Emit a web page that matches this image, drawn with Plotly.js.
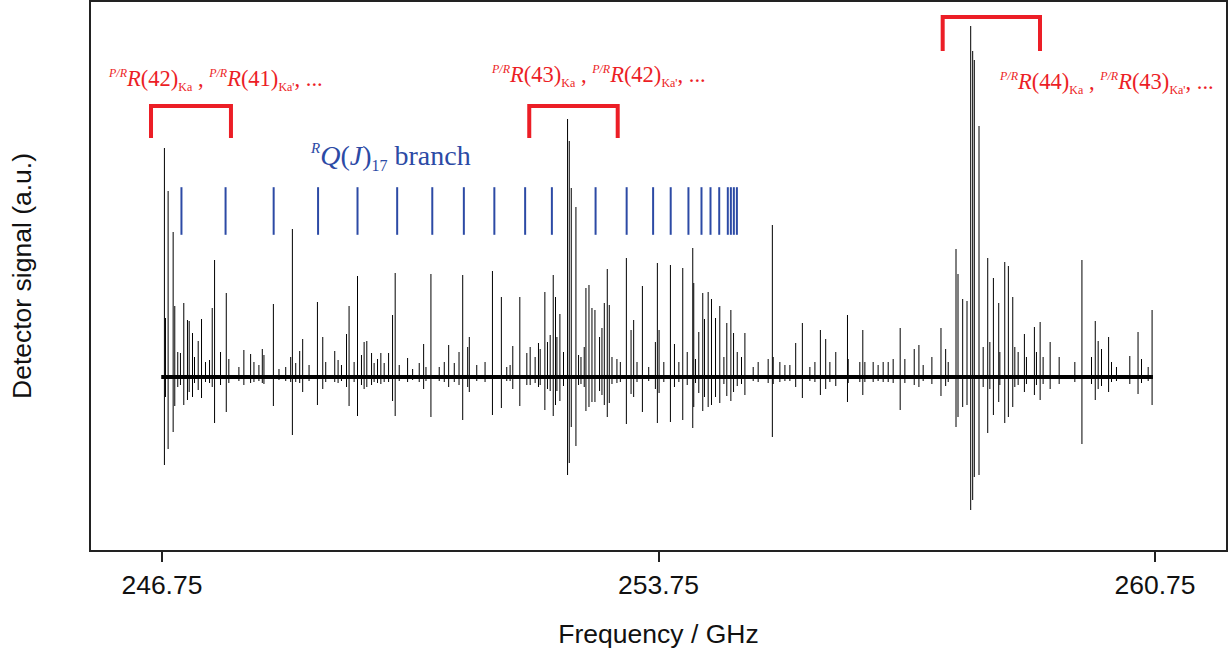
<!DOCTYPE html>
<html>
<head>
<meta charset="utf-8">
<script src="https://cdn.plot.ly/plotly-3.0.1.min.js"></script>
<style>html,body{margin:0;padding:0;background:#fff;}#chart{width:1231px;height:654px;}</style>
</head>
<body>
<div id="chart"></div>
<script>
// Spectral lines: frequency (GHz), upward lobe, downward lobe (detector signal, a.u.)
const lineFreq = [
246.785,246.800,246.837,246.908,246.931,246.973,247.011,247.058,247.110,247.134,
247.181,247.209,247.261,247.308,247.364,247.421,247.459,247.492,247.576,247.657,
247.693,247.835,247.905,248.000,248.047,248.117,248.165,248.188,248.321,248.400,
248.495,248.565,248.589,248.636,248.692,248.734,248.824,248.942,249.017,249.059,
249.186,249.233,249.281,249.352,249.388,249.459,249.507,249.563,249.600,249.638,
249.705,249.741,249.789,249.836,249.883,249.945,250.001,250.038,250.095,250.213,
250.284,250.377,250.439,250.472,250.542,250.659,250.730,250.792,250.871,250.938,
250.990,251.060,251.083,251.188,251.305,251.409,251.535,251.611,251.658,251.696,
251.795,251.894,251.941,252.011,252.058,252.082,252.148,252.185,252.223,252.266,
252.298,252.318,252.360,252.411,252.468,252.492,252.520,252.586,252.623,252.657,
252.703,252.727,252.770,252.812,252.854,252.919,252.953,252.986,253.028,253.056,
253.094,253.164,253.212,253.297,253.363,253.400,253.447,253.523,253.612,253.706,
253.734,253.758,253.825,253.918,253.975,254.037,254.092,254.155,254.233,254.247,
254.272,254.318,254.374,254.398,254.450,254.497,254.554,254.614,254.672,254.713,
254.770,254.808,254.860,254.920,254.968,255.085,255.155,255.296,255.355,255.367,
255.461,255.532,255.602,255.684,255.778,255.884,255.955,256.032,256.107,256.166,
256.249,256.414,256.424,256.588,256.630,256.659,256.776,256.846,256.917,256.988,
257.058,257.157,257.223,257.355,257.421,257.481,257.604,257.732,257.798,257.834,
257.944,257.972,258.038,258.099,258.151,258.179,258.202,258.268,258.327,258.391,
258.421,258.471,258.546,258.562,258.631,258.682,258.744,258.773,258.820,258.908,
258.937,259.049,259.078,259.130,259.172,259.271,259.398,259.619,259.719,259.854,
259.907,259.948,259.995,260.095,260.136,260.206,260.394,260.510,260.559,260.653,
260.708
];
const lineUp = [
229,59,186,145,71,25,24,74,57,56,
44,20,36,58,15,17,69,117,25,84,
18,10,27,23,15,12,28,22,73,8,
10,20,148,14,26,38,12,75,40,15,
26,17,12,43,71,15,101,22,35,36,
24,14,18,24,14,24,62,104,12,19,
8,14,33,10,103,10,15,32,14,25,
102,30,40,12,15,106,80,10,12,31,
80,24,30,20,34,28,85,35,42,102,
80,40,63,25,258,236,189,170,22,20,
30,89,92,69,67,40,49,74,108,72,
20,18,15,119,47,57,15,91,10,35,
114,47,15,112,33,15,109,25,129,94,
18,45,84,58,85,78,59,71,20,54,
67,44,25,20,44,10,15,18,152,20,
15,12,12,34,54,10,15,47,38,15,
25,62,18,15,47,15,15,12,15,15,
18,49,18,28,32,12,20,49,28,15,
128,103,78,76,351,326,317,251,30,119,
35,99,74,25,115,111,80,30,25,43,
20,50,25,55,20,35,20,15,117,20,
56,36,28,40,15,10,21,45,18,10,
67
];
const lineDown = [
88,20,72,55,29,10,8,28,23,15,
20,6,13,21,5,6,10,46,8,35,
6,4,8,6,5,4,6,7,29,3,
4,5,58,5,6,15,4,28,12,5,
5,6,4,10,29,5,39,8,12,10,
8,5,6,7,5,5,24,39,4,5,
3,5,12,4,40,4,5,10,5,8,
43,10,15,4,5,38,31,4,4,12,
29,8,8,6,10,8,33,12,14,39,
28,14,24,9,98,86,50,69,8,7,
10,34,30,25,25,14,18,28,40,26,
7,6,5,47,17,20,5,35,4,12,
46,16,5,45,10,5,43,8,51,30,
6,16,34,20,30,28,20,26,7,19,
24,15,9,7,18,4,5,6,60,7,
5,4,4,10,21,4,5,18,12,5,
9,25,6,5,18,5,5,4,5,5,
6,33,6,8,10,4,7,19,9,5,
50,40,30,28,133,123,100,98,10,56,
12,38,25,8,46,40,30,10,8,15,
7,18,8,23,7,12,7,5,67,7,
23,12,9,15,5,4,7,17,6,4,
28
];
// Extent of the recorded baseline (GHz)
const scanFreq = [246.74, 260.72];
const scanLevel = [0, 0];
// ^R Q(J)_17 branch line positions (GHz)
const rqBranch = [
247.025,247.647,248.325,248.951,249.507,250.066,250.561,251.006,251.436,251.870,
252.247,252.863,253.301,253.674,253.922,254.172,254.356,254.483,254.606,254.727,
254.770,254.812,254.855
];
const rqLevel = 166;
const xTicks = [246.75, 253.75, 260.75];
const xTickText = ['246.75', '253.75', '260.75'];

// Build stick path
const sx = [], sy = [];
for (let i = 0; i < lineFreq.length; i++) {
  sx.push(lineFreq[i], lineFreq[i], null);
  sy.push(lineUp[i], -lineDown[i], null);
}

const RED = 'rgb(236,30,38)';
const BLUE = 'rgb(44,74,165)';

const traces = [
  {x: scanFreq, y: scanLevel, mode: 'lines', line: {color: '#000', width: 4}, hoverinfo: 'skip', showlegend: false},
  {x: sx, y: sy, mode: 'lines', line: {color: '#000', width: 1}, connectgaps: false, hoverinfo: 'skip', showlegend: false},
  {x: rqBranch, y: rqBranch.map(() => rqLevel), mode: 'markers',
   marker: {symbol: 'line-ns-open', size: 34, color: BLUE, line: {color: BLUE, width: 2}},
   hoverinfo: 'skip', showlegend: false}
];

function bracket(x0, x1, yb, yt) {
  return {type: 'path', xref: 'x', yref: 'y',
    path: `M ${x0} ${yb} L ${x0} ${yt} L ${x1} ${yt} L ${x1} ${yb}`,
    line: {color: RED, width: 4}};
}

const sSup = (t, s) => `<sup><span style="font-size:${s}px">${t}</span></sup>`;
const sSub = (t, s) => `<sub><span style="font-size:${s}px">${t}</span></sub>`;
const redLabel = (a, b) =>
  `${sSup('<i>P/R</i>', 12)}<i>R</i>(${a})${sSub('Ka', 12)} , ${sSup('<i>P/R</i>', 12)}<i>R</i>(${b})${sSub("Ka'", 12)}, ...`;

const serif = 'Liberation Serif, Times New Roman, serif';
const sans = 'Liberation Sans, Arial, sans-serif';

const layout = {
  width: 1231, height: 654,
  margin: {l: 91, r: 5, t: 2, b: 104},
  paper_bgcolor: '#fff', plot_bgcolor: '#fff',
  showlegend: false,
  xaxis: {
    range: [245.75, 261.75], tickvals: xTicks, ticktext: xTickText,
    ticks: 'outside', ticklen: 10, tickwidth: 2, tickcolor: '#222',
    showline: true, mirror: true, linecolor: '#222', linewidth: 2,
    showgrid: false, zeroline: false,
    tickfont: {family: sans, size: 26.5, color: '#111'},
    title: {text: 'Frequency / GHz', font: {family: sans, size: 26.5, color: '#111'}, standoff: 26}
  },
  yaxis: {
    range: [-173, 375], showticklabels: false, ticks: '',
    showline: true, mirror: true, linecolor: '#222', linewidth: 2,
    showgrid: false, zeroline: false,
    title: {text: 'Detector signal (a.u.)', font: {family: sans, size: 26.5, color: '#111'}, standoff: 50}
  },
  shapes: [
    bracket(246.596, 247.723, 239, 271),
    bracket(251.928, 253.175, 239, 271),
    bracket(257.756, 259.128, 326, 360)
  ],
  annotations: [
    {x: 245.96, y: 297, xref: 'x', yref: 'y', xanchor: 'left', yanchor: 'middle', showarrow: false,
     text: redLabel(42, 41), font: {family: serif, size: 22.5, color: RED}},
    {x: 251.36, y: 301, xref: 'x', yref: 'y', xanchor: 'left', yanchor: 'middle', showarrow: false,
     text: redLabel(43, 42), font: {family: serif, size: 22.5, color: RED}},
    {x: 258.52, y: 294, xref: 'x', yref: 'y', xanchor: 'left', yanchor: 'middle', showarrow: false,
     text: redLabel(44, 43), font: {family: serif, size: 22.5, color: RED}},
    {x: 248.813, y: 220, xref: 'x', yref: 'y', xanchor: 'left', yanchor: 'middle', showarrow: false,
     text: `${sSup('<i>R</i>', 15)}<i>Q</i>(<i>J</i>)${sSub('17', 16)} branch`,
     font: {family: serif, size: 28, color: BLUE}}
  ]
};

Plotly.newPlot('chart', traces, layout, {staticPlot: true, displayModeBar: false});
</script>
</body>
</html>
